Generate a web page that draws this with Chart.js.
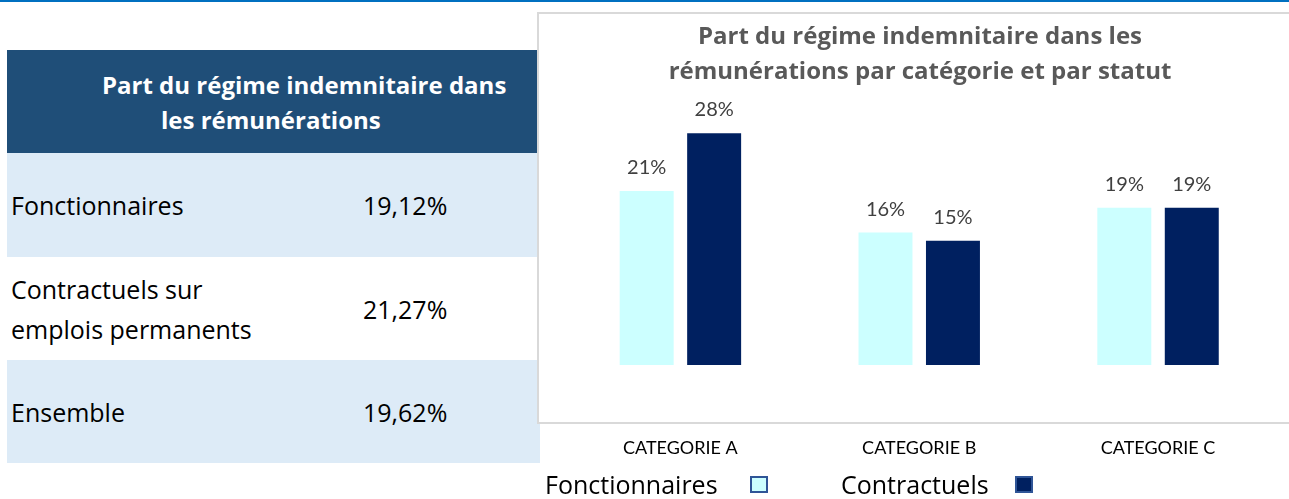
<!DOCTYPE html>
<html>
<head>
<meta charset="utf-8">
<script src="https://cdn.jsdelivr.net/npm/chart.js@4/dist/chart.umd.min.js"></script>
<style>
    html, body { margin: 0; padding: 0; background: #fff; width: 1289px; height: 499px; overflow: hidden; font-family: "Open Sans", sans-serif; }
    .topline { position: absolute; left: 0; top: 0; width: 1289px; height: 2px; background: #0070C0; }
    table { position: absolute; left: 7px; top: 50px; width: 533px; border-collapse: collapse; font-size: 25px; color: #000; }
    td { padding: 0; vertical-align: middle; }
    th { background: #1F4E78; color: #fff; font-weight: bold; font-size: 24px; height: 103px; padding: 0 0 0 95px; line-height: 35px; text-align: left; }
    th span { padding-left: 59px; }
    tr.light td { background: #DDEBF7; }
    td.lab { width: 337px; padding-left: 4px; }
    td.val { padding-left: 15px; }
    .frame { position: absolute; left: 537px; top: 12px; width: 800px; height: 408px; border: 2px solid #D9D9D9; background: #fff; }
    .wrap { position: absolute; left: 537px; top: 12px; width: 752px; height: 487px; }
    .leg { position: absolute; top: 469px; font-size: 25px; line-height: 30px; color: #000; }
    .box { position: absolute; top: 476px; width: 14px; height: 13px; border: 2px solid #2F5597; }
</style>
</head>
<body>
<div class="topline"></div>
<table id="tbl"></table>
<div class="frame"></div>
<div class="wrap"><canvas id="myChart"></canvas></div>
<span class="leg" style="left:545px">Fonctionnaires</span>
<span class="box" style="left:750px;background:#CCFFFF"></span>
<span class="leg" style="left:841px">Contractuels</span>
<span class="box" style="left:1015px;background:#002060"></span>
<script>
const tableTitle = ['Part du régime indemnitaire dans', 'les rémunérations'];
const tableRows = ['Fonctionnaires', 'Contractuels sur<br>emplois permanents', 'Ensemble'];
const tableValues = ['19,12%', '21,27%', '19,62%'];

const chartTitle = ['Part du régime indemnitaire dans les', 'rémunérations par catégorie et par statut'];
const categories = ['CATEGORIE A', 'CATEGORIE B', 'CATEGORIE C'];
const fonctionnaires = [21, 16, 19];
const contractuels = [28, 15, 19];

document.addEventListener('DOMContentLoaded', function () {
    const tbl = document.getElementById('tbl');
    let html = '<tr><th colspan="2">' + tableTitle[0] + '<br><span>' + tableTitle[1] + '</span></th></tr>';
    const heights = [104, 103, 103];
    tableRows.forEach(function (row, i) {
        const cls = i === 1 ? '' : 'light';
        const lh = i === 1 ? 'line-height:40px;' : '';
        html += '<tr class="' + cls + '" style="height:' + heights[i] + 'px"><td class="lab" style="' + lh + '">' + row +
            '</td><td class="val">' + tableValues[i] + '</td></tr>';
    });
    tbl.innerHTML = html;

    const barLabels = {
        id: 'barLabels',
        afterDatasetsDraw: function (chart) {
            const ctx = chart.ctx;
            ctx.save();
            ctx.font = '20px Lato';
            ctx.fillStyle = '#404040';
            ctx.textAlign = 'center';
            ctx.textBaseline = 'alphabetic';
            chart.data.datasets.forEach(function (ds, di) {
                chart.getDatasetMeta(di).data.forEach(function (bar, i) {
                    ctx.fillText(ds.data[i] + '%', bar.x, bar.y - 17);
                });
            });
            ctx.restore();
        }
    };

    const ctx = document.getElementById('myChart').getContext('2d');
    new Chart(ctx, {
        type: 'bar',
        data: {
            labels: categories,
            datasets: [{
                label: 'Fonctionnaires',
                data: fonctionnaires,
                backgroundColor: '#CCFFFF',
                barPercentage: 0.8,
                categoryPercentage: 0.565
            }, {
                label: 'Contractuels',
                data: contractuels,
                backgroundColor: '#002060',
                barPercentage: 0.8,
                categoryPercentage: 0.565
            }]
        },
        options: {
            responsive: true,
            maintainAspectRatio: false,
            animation: false,
            layout: { padding: { left: 24, right: 10, top: 0, bottom: 44 } },
            scales: {
                x: {
                    grid: { display: false, drawTicks: false },
                    border: { display: false },
                    ticks: { font: { family: 'Lato', size: 18 }, color: '#000', padding: 72 },
                    afterFit: function (scale) { scale.height = 90; }
                },
                y: {
                    display: false,
                    min: 0,
                    max: 30
                }
            },
            plugins: {
                legend: { display: false },
                tooltip: { enabled: false },
                title: {
                    display: true,
                    text: chartTitle,
                    color: '#595959',
                    font: { family: 'Open Sans', size: 24, weight: 'bold', lineHeight: 1.45 },
                    padding: { top: 8, bottom: 27 }
                }
            }
        },
        plugins: [barLabels]
    });
});
</script>
</body>
</html>
